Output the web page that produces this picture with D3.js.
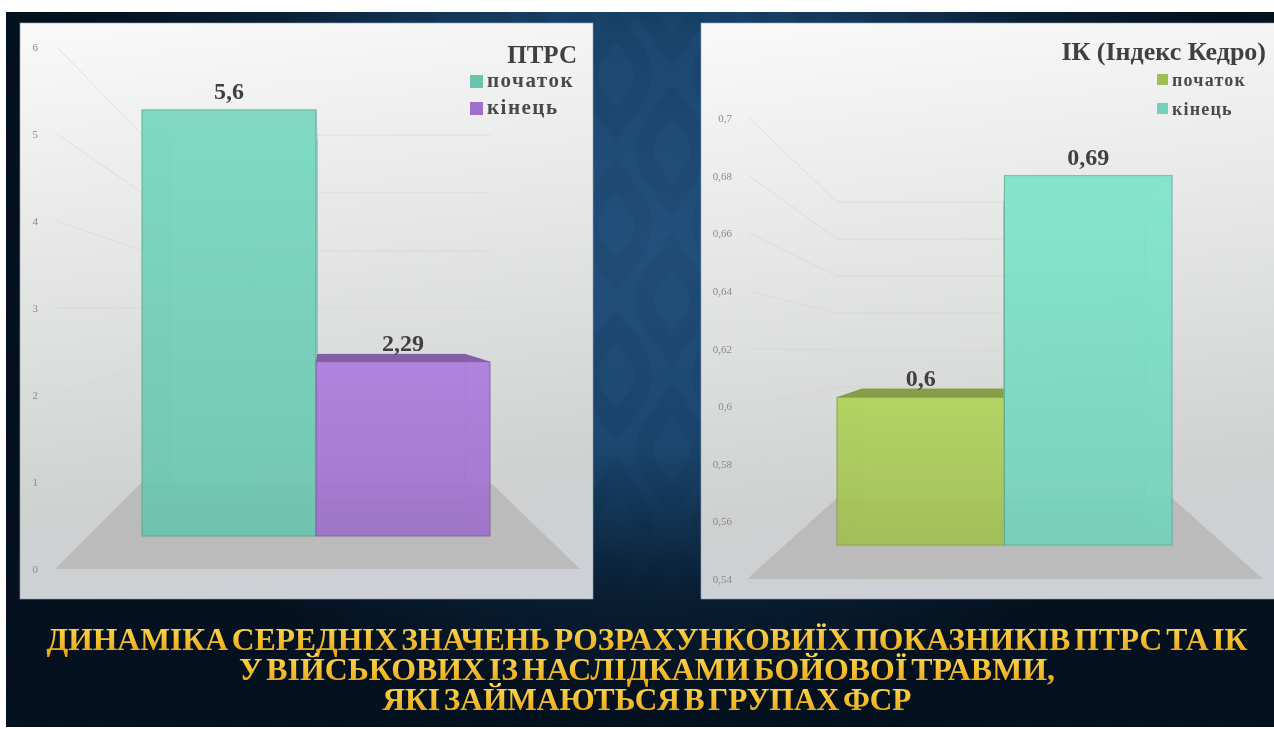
<!DOCTYPE html>
<html>
<head>
<meta charset="utf-8">
<script src="https://cdnjs.cloudflare.com/ajax/libs/d3/7.8.5/d3.min.js"></script>
<style>
  html, body { margin: 0; padding: 0; background: #fff; }
  svg { display: block; }
</style>
</head>
<body>
<div id="chart"></div>
<script>
// Values
const seriesNames = ['початок', 'кінець'];

const ptrsTitle = 'ПТРС';
const ptrsValues = [5.6, 2.29];
const ptrsLabels = ['5,6', '2,29'];
const ptrsTicks = [0, 1, 2, 3, 4, 5, 6];
const ptrsTickLabels = ['0', '1', '2', '3', '4', '5', '6'];
const ptrsColors = ['#70d0b8', '#a676d4'];

const ikTitle = 'ІК (Індекс Кедро)';
const ikValues = [0.6, 0.69];
const ikLabels = ['0,6', '0,69'];
const ikTicks = [0.54, 0.56, 0.58, 0.6, 0.62, 0.64, 0.66, 0.68, 0.7];
const ikTickLabels = ['0,54', '0,56', '0,58', '0,6', '0,62', '0,64', '0,66', '0,68', '0,7'];
const ikColors = ['#a9ca56', '#78dcc2'];

const titleLines = [
    'ДИНАМІКА СЕРЕДНІХ ЗНАЧЕНЬ РОЗРАХУНКОВИЇХ ПОКАЗНИКІВ ПТРС ТА ІК',
    'У ВІЙСЬКОВИХ ІЗ НАСЛІДКАМИ БОЙОВОЇ ТРАВМИ,',
    'ЯКІ ЗАЙМАЮТЬСЯ В ГРУПАХ ФСР'
];

const width = 1274;
const height = 729;
const serif = '"Liberation Serif", "DejaVu Serif", serif';

const svg = d3.select('#chart').append('svg')
    .attr('width', width)
    .attr('height', height)
    .style('font-family', serif);

const defs = svg.append('defs');

// Background glow
const bgGrad = defs.append('radialGradient').attr('id', 'bgGlow')
    .attr('gradientUnits', 'userSpaceOnUse')
    .attr('cx', 650).attr('cy', 240).attr('r', 640)
    .attr('gradientTransform', 'translate(650 240) scale(1 0.72) translate(-650 -240)');
bgGrad.append('stop').attr('offset', '0%').attr('stop-color', '#23507c');
bgGrad.append('stop').attr('offset', '45%').attr('stop-color', '#1b4770');
bgGrad.append('stop').attr('offset', '76%').attr('stop-color', '#0a1f34');
bgGrad.append('stop').attr('offset', '100%').attr('stop-color', '#04101d');

// Damask wallpaper, very faint
const damask = defs.append('pattern').attr('id', 'damask')
    .attr('patternUnits', 'userSpaceOnUse')
    .attr('width', 112).attr('height', 150);
const damaskCell = 'M56 8 C70 30 92 48 92 75 C92 102 70 120 56 142 C42 120 20 102 20 75 C20 48 42 30 56 8 Z M56 42 C48 54 38 62 38 75 C38 88 48 96 56 108 C64 96 74 88 74 75 C74 62 64 54 56 42 Z';
[[0, 0], [-56, -75], [56, -75], [-56, 75], [56, 75]].forEach(d => {
    damask.append('path').attr('d', damaskCell)
        .attr('transform', `translate(${d[0]} ${d[1]})`)
        .attr('fill', '#06192c').attr('fill-opacity', 0.08).attr('fill-rule', 'evenodd');
});

// Panel background
const panelGrad = defs.append('linearGradient').attr('id', 'panelBg')
    .attr('x1', 0.1).attr('y1', 0).attr('x2', 0.2).attr('y2', 1);
panelGrad.append('stop').attr('offset', '0%').attr('stop-color', '#f9f9f9');
panelGrad.append('stop').attr('offset', '55%').attr('stop-color', '#dedfdf');
panelGrad.append('stop').attr('offset', '85%').attr('stop-color', '#cfd0d0');
panelGrad.append('stop').attr('offset', '100%').attr('stop-color', '#cdd1d5');

// Gold title fill
const goldGrad = defs.append('linearGradient').attr('id', 'gold')
    .attr('x1', 0).attr('y1', 0).attr('x2', 0).attr('y2', 1);
goldGrad.append('stop').attr('offset', '0%').attr('stop-color', '#ffdf55');
goldGrad.append('stop').attr('offset', '100%').attr('stop-color', '#e8a010');

const soft = defs.append('filter').attr('id', 'soft');
soft.append('feGaussianBlur').attr('stdDeviation', 0.4);

svg.append('rect').attr('x', 6).attr('y', 12).attr('width', width - 6).attr('height', 715)
    .attr('fill', 'url(#bgGlow)');
svg.append('rect').attr('x', 6).attr('y', 12).attr('width', width - 6).attr('height', 715)
    .attr('fill', 'url(#damask)');

// One 3D column panel
function drawPanel(cfg) {
    const g = svg.append('g');
    const y0 = cfg.ticks[0];
    const y1 = cfg.ticks[cfg.ticks.length - 1];
    const domain = [y0, y1];

    g.append('rect')
        .attr('x', cfg.panel[0]).attr('y', 23)
        .attr('width', cfg.panel[1] - cfg.panel[0]).attr('height', 576)
        .attr('fill', 'url(#panelBg)')
        .attr('stroke', '#8fa3b5').attr('stroke-width', 0.6);

    // The same value sits on four depth planes: axis, bar front, bar back, wall
    const yAxis = d3.scaleLinear().domain(domain).range(cfg.axisY);
    const yFront = d3.scaleLinear().domain(domain).range(cfg.frontY);
    const yBack = d3.scaleLinear().domain(domain).range(cfg.backY);
    const yWall = d3.scaleLinear().domain(domain).range(cfg.wallY);

    const xFront = d3.scaleBand().domain(seriesNames).range(cfg.frontX);
    const xBack = d3.scaleBand().domain(seriesNames).range(cfg.backX);

    const line = d3.line();

    // Floor
    g.append('path')
        .attr('d', line([
            [cfg.floorX[0], yAxis(y0)],
            [cfg.frontX[0], yWall(y0)],
            [cfg.frontX[1], yWall(y0)],
            [cfg.floorX[1], yAxis(y0)]
        ]) + 'Z')
        .attr('fill', '#bbbbbb');

    // Gridlines: diagonal on the side wall, level on the back wall
    cfg.ticks.slice(1).forEach(t => {
        g.append('path')
            .attr('d', line([
                [cfg.floorX[0] + 2, yAxis(t)],
                [cfg.frontX[0], yWall(t)],
                [cfg.frontX[1], yWall(t)]
            ]))
            .attr('fill', 'none')
            .attr('stroke', '#d3d3d3')
            .attr('stroke-opacity', 0.6)
            .attr('stroke-width', 1);
    });

    // Tick labels
    const axis = d3.axisLeft(yAxis)
        .tickValues(cfg.ticks)
        .tickSize(0)
        .tickFormat((d, i) => cfg.tickLabels[i]);
    const axisG = g.append('g')
        .attr('transform', `translate(${cfg.axisX},0)`)
        .call(axis);
    axisG.select('.domain').remove();
    axisG.selectAll('text')
        .attr('font-family', serif)
        .attr('font-size', 11)
        .attr('fill', '#8a8a8a');

    // Columns, back faces first
    seriesNames.forEach((name, i) => {
        const v = cfg.values[i];
        const color = cfg.colors[i];
        const fl = xFront(name), fr = fl + xFront.bandwidth();
        const bl = xBack(name), br = bl + xBack.bandwidth();
        const topVisible = yBack(v) < yFront(v);

        const grad = defs.append('linearGradient').attr('id', `${cfg.id}-bar${i}`)
            .attr('x1', 0).attr('y1', 0).attr('x2', 0).attr('y2', 1);
        grad.append('stop').attr('offset', '0%').attr('stop-color', d3.color(color).brighter(0.12));
        grad.append('stop').attr('offset', '100%').attr('stop-color', d3.color(color).darker(0.15));

        const faces = [
            { pts: [[bl, yBack(v)], [br, yBack(v)], [br, yBack(y0)], [bl, yBack(y0)]], fill: color, op: 0.3 },
            { pts: [[fl, yFront(y0)], [fr, yFront(y0)], [br, yBack(y0)], [bl, yBack(y0)]], fill: d3.color(color).darker(0.3), op: 0.35 },
            { pts: [[fl, yFront(v)], [bl, yBack(v)], [bl, yBack(y0)], [fl, yFront(y0)]], fill: d3.color(color).darker(0.3), op: 0.35 },
            { pts: [[fr, yFront(v)], [br, yBack(v)], [br, yBack(y0)], [fr, yFront(y0)]], fill: d3.color(color).brighter(0.2), op: 0.35 }
        ];
        faces.forEach(f => {
            g.append('path').attr('d', line(f.pts) + 'Z').attr('fill', f.fill).attr('fill-opacity', f.op)
                .attr('stroke', d3.color(color).darker(0.6)).attr('stroke-opacity', 0.3).attr('stroke-width', 0.8);
        });

        g.append('rect')
            .attr('x', fl).attr('y', yFront(v))
            .attr('width', xFront.bandwidth()).attr('height', yFront(y0) - yFront(v))
            .attr('fill', `url(#${cfg.id}-bar${i})`)
            .attr('fill-opacity', 0.88)
            .attr('stroke', d3.color(color).darker(0.8))
            .attr('stroke-opacity', 0.7)
            .attr('stroke-width', 1);

        // Top face only reads as a solid cap when it is seen from above
        g.append('path')
            .attr('d', line([[fl, yFront(v)], [fr, yFront(v)], [br, yBack(v)], [bl, yBack(v)]]) + 'Z')
            .attr('fill', topVisible ? d3.color(color).darker(0.75) : d3.color(color).darker(0.1))
            .attr('fill-opacity', topVisible ? 0.95 : 0.1)
            .attr('stroke', 'none');

        g.append('text')
            .attr('x', (fl + fr) / 2 + cfg.labelDx[i])
            .attr('y', (topVisible ? yBack(v) - 3 : yFront(v) - 11))
            .attr('text-anchor', 'middle')
            .attr('font-size', 24)
            .attr('font-weight', 700)
            .attr('fill', '#404040')
            .text(cfg.labels[i]);
    });

    // Legend
    g.append('text')
        .attr('x', cfg.titleX).attr('y', cfg.titleY)
        .attr('text-anchor', 'end')
        .attr('font-size', cfg.titleSize)
        .attr('font-weight', 700)
        .attr('fill', '#3f3f3f')
        .text(cfg.title);

    seriesNames.forEach((name, i) => {
        g.append('rect')
            .attr('x', cfg.legendX).attr('y', cfg.legendY[i] - 6)
            .attr('width', cfg.swatch).attr('height', cfg.swatch)
            .attr('fill', d3.color(cfg.colors[i]).darker(0.15));
        g.append('text')
            .attr('x', cfg.legendX + cfg.swatch + 4).attr('y', cfg.legendY[i] + 6)
            .attr('font-size', cfg.legendSize)
            .attr('font-weight', 700)
            .attr('letter-spacing', cfg.legendSpacing)
            .attr('fill', '#4a4a4a')
            .text(name);
    });

    g.attr('filter', 'url(#soft)');
}

drawPanel({
    id: 'ptrs',
    title: ptrsTitle, values: ptrsValues, labels: ptrsLabels,
    ticks: ptrsTicks, tickLabels: ptrsTickLabels, colors: ptrsColors,
    panel: [20, 593],
    axisX: 41, axisY: [569, 47],
    frontY: [536, 79.4], backY: [502, 114.4], wallY: [482, 135],
    frontX: [142, 490], backX: [170, 465], floorX: [55, 580],
    labelDx: [0, 0],
    titleX: 577, titleY: 63, titleSize: 25,
    legendX: 470, legendY: [81, 108], swatch: 13, legendSize: 21, legendSpacing: 1.5
});

drawPanel({
    id: 'ik',
    title: ikTitle, values: ikValues, labels: ikLabels,
    ticks: ikTicks, tickLabels: ikTickLabels, colors: ikColors,
    panel: [701, 1275],
    axisX: 735, axisY: [579, 118],
    frontY: [545, 151], backY: [512, 183], wallY: [498, 202],
    frontX: [837, 1172], backX: [862, 1145], floorX: [747, 1263],
    labelDx: [0, 0],
    titleX: 1266, titleY: 60, titleSize: 26,
    legendX: 1157, legendY: [80, 109], swatch: 11, legendSize: 18, legendSpacing: 1.2
});

// Slide title
const titleBaselines = [650, 680, 710];
const titleSpans = [1201, 816, 529];
titleLines.forEach((t, i) => {
    svg.append('text')
        .attr('x', 647)
        .attr('y', titleBaselines[i])
        .attr('text-anchor', 'middle')
        .attr('font-family', serif)
        .attr('font-size', 31)
        .attr('font-weight', 700)
        .attr('word-spacing', -4)
        .attr('textLength', titleSpans[i])
        .attr('lengthAdjust', 'spacingAndGlyphs')
        .attr('fill', 'url(#gold)')
        .attr('filter', 'url(#soft)')
        .text(t);
});
</script>
</body>
</html>
